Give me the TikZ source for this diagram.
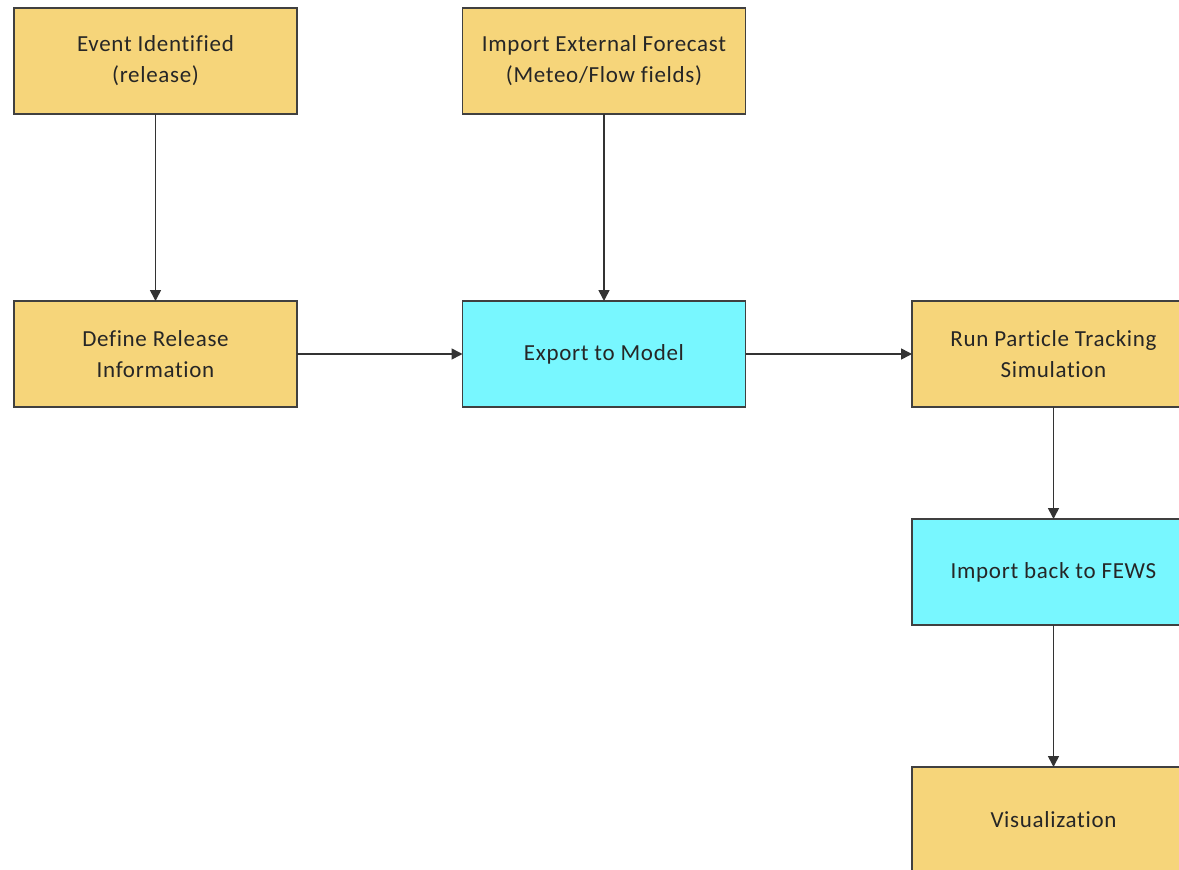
\documentclass[tikz,border=0pt]{standalone}
\usepackage{fontspec}
\setmainfont{Carlito}[LetterSpace=3,Ligatures=NoCommon]
\usetikzlibrary{arrows.meta}
\definecolor{boxyellow}{RGB}{246,213,122}
\definecolor{boxcyan}{RGB}{120,247,255}
\definecolor{edgegray}{RGB}{64,64,64}
\begin{document}
\begin{tikzpicture}[x=1pt,y=-1pt,>={Triangle[length=11pt,width=11pt]},
    line cap=butt,line join=miter,
    stepbox/.style={draw=edgegray,line width=1.8pt,fill=boxyellow,
      minimum width=283pt,minimum height=106pt,inner sep=0pt,outer sep=0pt,
      align=center,text=black!85,font=\fontsize{23}{31}\selectfont},
    modelbox/.style={stepbox,fill=boxcyan},
    flow/.style={->,draw=black!80,line width=1.6pt}]
    % page frame; the right column is cut by the page edge
    \useasboundingbox (0,0) rectangle (1179,870);
    \clip (0,0) rectangle (1179,870);

    % top row
    \node[stepbox] (event) at (155.5,61) {Event Identified\\(release)};
    \node[stepbox] (forecast) at (604,61)
      {Import External Forecast\\(Meteo/Flow fields)};

    % middle row
    \node[stepbox] (release) at (155.5,354) {Define Release\\Information};
    \node[modelbox] (export) at (604,354) {Export to Model};
    \node[stepbox] (tracking) at (1053.5,354)
      {Run Particle Tracking\\Simulation};

    % right column going down
    \node[modelbox] (fews) at (1053.5,572) {Import back to FEWS};
    \node[stepbox] (visual) at (1053.5,820) {Visualization};

    \draw[flow] (event) -- (release);
    \draw[flow] (forecast) -- (export);
    \draw[flow] (release) -- (export);
    \draw[flow] (export) -- (tracking);
    \draw[flow] (tracking) -- (fews);
    \draw[flow] (fews) -- (visual);
\end{tikzpicture}
\end{document}
